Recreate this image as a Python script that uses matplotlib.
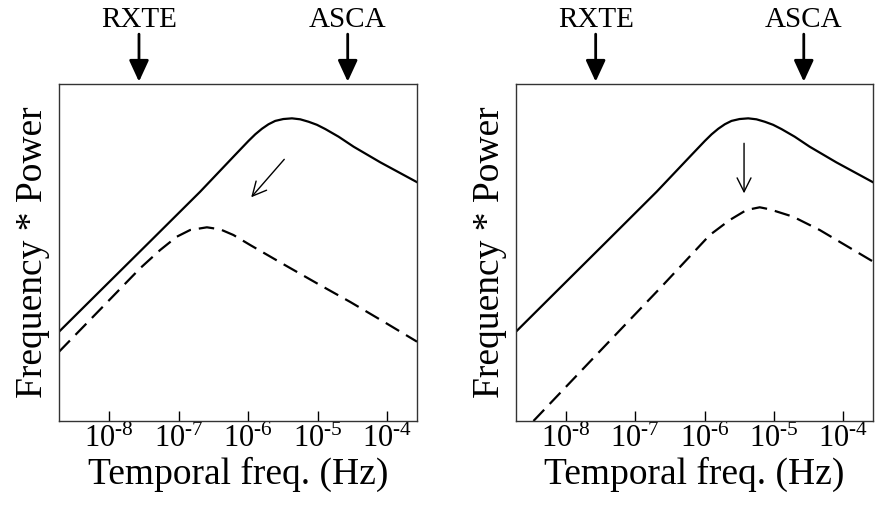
import numpy as np
import matplotlib
matplotlib.use("Agg")
import matplotlib.pyplot as plt
import matplotlib.transforms as mtransforms

plt.rcParams['font.family'] = ['Liberation Serif', 'DejaVu Serif']
plt.rcParams['mathtext.fontset'] = 'custom'
plt.rcParams['mathtext.rm'] = 'Liberation Serif'
plt.rcParams['mathtext.it'] = 'Liberation Serif:italic'

# log10 of temporal frequency (Hz) and log10(f*P) in arbitrary units
solid_logf = [-8.719, -8.129, -7.410, -6.691, -6.187, -5.996, -5.899, -5.803, -5.708,
              -5.612, -5.496, -5.371, -5.252, -5.132, -5.012, -4.892, -4.701, -4.485,
              -4.101, -3.573]
solid_lp = [1.285, 1.871, 2.584, 3.299, 3.830, 4.030, 4.125, 4.205, 4.270,
            4.318, 4.345, 4.355, 4.341, 4.306, 4.262, 4.201, 4.091, 3.947,
            3.722, 3.436]

# left panel: peak moves to lower frequency
left_dash_logf = [-8.719, -8.129, -7.554, -7.266, -7.026, -6.835, -6.594, -6.403,
                  -6.212, -5.971, -5.492, -5.012, -4.532, -4.053, -3.573]
left_dash_lp = [0.997, 1.604, 2.197, 2.460, 2.652, 2.748, 2.787, 2.758,
                2.676, 2.532, 2.255, 1.981, 1.712, 1.429, 1.141]

# right panel: peak drops at roughly the same frequency
right_dash_logf = [-8.467, -7.607, -7.125, -6.598, -6.261, -5.925, -5.637, -5.396,
                   -5.205, -5.061, -4.725, -4.340, -3.610, -3.573]
right_dash_lp = [0.0, 0.902, 1.406, 1.957, 2.317, 2.676, 2.892, 3.036,
                 3.075, 3.046, 2.940, 2.748, 2.317, 2.296]

# arrows showing how the curve moves (tail, head) in (log f, log fP)
left_move = [(-5.482, 3.765), (-5.957, 3.219)]
right_move = [(-5.431, 3.996), (-5.431, 3.276)]

# satellites marked above the axes
sat_names = ['RXTE', 'ASCA']
sat_logf = [-7.57, -4.57]

tick_exp = [-8, -7, -6, -5, -4]
tick_labels = [r'$10^{\text{-8}}$', r'$10^{\text{-7}}$', r'$10^{\text{-6}}$',
               r'$10^{\text{-5}}$', r'$10^{\text{-4}}$']

xlo, xhi = -8.719, -3.573
ylo, yhi = 0.0, 4.849

fig = plt.figure(figsize=(8.76, 5.17), dpi=100)
ax1 = fig.add_axes([0.0674, 0.1857, 0.4087, 0.6518])
ax2 = fig.add_axes([0.5890, 0.1857, 0.4075, 0.6518])

panels = [(ax1, left_dash_logf, left_dash_lp, left_move),
          (ax2, right_dash_logf, right_dash_lp, right_move)]

for ax, dlogf, dlp, move in panels:
    ax.plot(10 ** np.array(solid_logf), solid_lp, color='black', lw=1.6,
            solid_joinstyle='round')
    ax.plot(10 ** np.array(dlogf), dlp, color='black', lw=1.6, dashes=(7, 3.6))
    ax.set_xscale('log')
    ax.set_xlim(10 ** xlo, 10 ** xhi)
    ax.set_ylim(ylo, yhi)
    ax.set_xticks([10.0 ** e for e in tick_exp])
    ax.set_xticklabels(tick_labels)
    ax.minorticks_off()
    ax.set_yticks([])
    ax.tick_params(axis='x', direction='in', length=7, width=1.0, labelsize=22, pad=2.5)
    for sp in ax.spines.values():
        sp.set_linewidth(1.0)
        sp.set_color('#333333')
    ax.set_xlabel('Temporal freq. (Hz)', fontsize=27, labelpad=2)
    ax.set_ylabel('Frequency * Power', fontsize=27)
    ax.yaxis.set_label_coords(-0.026, 0.5)

    # movement arrow
    (t_f, t_p), (h_f, h_p) = move
    ax.annotate('', xy=(10 ** h_f, h_p), xytext=(10 ** t_f, t_p),
                arrowprops=dict(arrowstyle='->, head_length=1.0, head_width=0.5',
                                lw=1.0, color='black', shrinkA=0, shrinkB=0,
                                mutation_scale=10))

    # satellite markers
    trans = mtransforms.blended_transform_factory(ax.transData, ax.transAxes)
    for name, lf in zip(sat_names, sat_logf):
        ax.annotate('', xy=(10 ** lf, 1.007), xytext=(10 ** lf, 1.148),
                    xycoords=trans, textcoords=trans, annotation_clip=False,
                    arrowprops=dict(arrowstyle='-|>, head_length=1.3, head_width=0.6',
                                    lw=2.0, color='black', shrinkA=0, shrinkB=0,
                                    mutation_scale=10))
        ax.text(10 ** lf, 1.170, name, transform=trans, ha='center', va='baseline',
                fontsize=21)

fig.savefig('out.png', dpi=100)
